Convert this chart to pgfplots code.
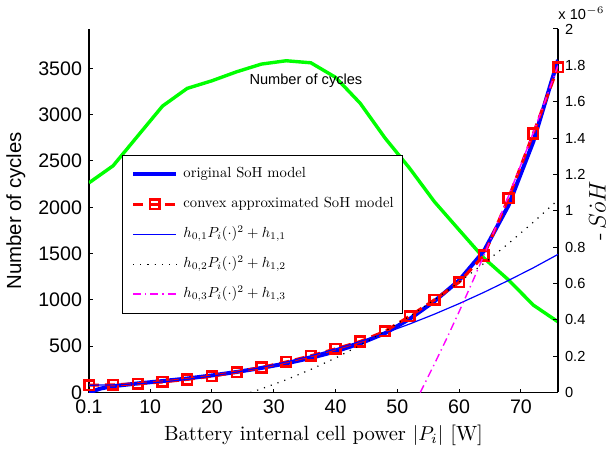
\documentclass[border=0pt]{standalone}
\usepackage{fontspec}
\usepackage{graphicx}
\usepackage{pgfplots}
\pgfplotsset{compat=1.18}
\newfontfamily\arial{Liberation Sans}
\definecolor{mygreen}{RGB}{0,255,0}
\definecolor{mymag}{RGB}{255,0,255}
\definecolor{myblue}{RGB}{0,0,255}
\newcommand\lgd[1]{\scalebox{0.73}{#1}}
\begin{document}
\begin{tikzpicture}
\begin{axis}[
  scale only axis, width=234.5pt, height=181.75pt,
  xmin=0.1, xmax=76, ymin=0, ymax=3925,
  axis y line*=left, axis x line*=bottom,
  axis line style={-, line width=0.6pt},
  xtick={0.1,10,20,30,40,50,60,70},
  xticklabels={0.1,10,20,30,40,50,60,70},
  ytick={0,500,1000,1500,2000,2500,3000,3500},
  yticklabels={0,500,1000,1500,2000,2500,3000,3500},
  tick align=inside, major tick length=2pt,
  tick style={black, line width=0.5pt},
  ticklabel style={font=\arial\fontsize{9.8}{11}\selectfont},
  xlabel={Battery internal cell power $|P_i|$ [W]},
  xlabel style={font=\fontsize{10.3}{12}\selectfont, at={(axis description cs:0.5,-0.1307)}, anchor=base},
  ylabel={Number of cycles},
  ylabel style={font=\arial\fontsize{10.2}{12}\selectfont, at={(axis description cs:-0.156,0.5)}, anchor=center},
]
\addplot[mygreen, line width=1.7pt] coordinates {
(0.1,2264) (4,2448) (8,2771) (12,3093) (16,3284) (20,3366) (24,3463) (28,3546)
(32,3582) (36,3560) (40,3403) (44,3122) (48,2748) (52,2420) (56,2060) (60,1755)
(64,1452) (68,1215) (72,944) (76,763)};
\node[font=\arial\fontsize{7.3}{9}\selectfont, anchor=center] at (axis cs:35.2,3368) {Number of cycles};
\end{axis}
\begin{axis}[
  scale only axis, width=234.5pt, height=181.75pt,
  xmin=0.1, xmax=76, ymin=0, ymax=2,
  axis y line*=right, axis x line=none,
  axis line style={-, line width=0.6pt},
  clip mode=individual,
  ytick={0,0.2,0.4,0.6,0.8,1,1.2,1.4,1.6,1.8,2},
  yticklabels={0,0.2,0.4,0.6,0.8,1,1.2,1.4,1.6,1.8,2},
  tick align=inside, major tick length=2.5pt,
  tick style={black, line width=0.5pt},
  yticklabel style={font=\arial\fontsize{7.3}{9}\selectfont},
  ylabel={-$\,S\dot{o}H$},
  ylabel style={font=\fontsize{11.5}{13}\selectfont, inner sep=0pt, at={(axis description cs:1.084,0.5)}, anchor=center},
  legend style={at={(axis description cs:0.0697,0.6534)}, anchor=north west,
    font=\fontsize{10}{12}\selectfont, fill=white,
    inner xsep=4.5pt, inner ysep=6pt, row sep=8.2pt, column sep=2.5pt,
    nodes={inner sep=0pt, text height=5.2pt, text depth=1.6pt}},
  legend cell align=left,
  legend image code/.code={\draw[mark repeat=2,mark phase=2,#1] plot coordinates {(0pt,0pt) (10.85pt,0pt) (21.7pt,0pt)};},
]
\addplot[myblue, line width=2pt] coordinates {
(0.1,0.0) (2,0.022) (4,0.035) (8,0.050) (12,0.063) (16,0.077) (20,0.094) (24,0.113)
(28,0.135) (32,0.160) (36,0.190) (40,0.226) (44,0.270) (48,0.326) (52,0.405)
(56,0.502) (60,0.617) (64,0.778) (68,1.030) (72,1.380) (76,1.830)};
\addlegendentry{\lgd{original SoH model}}
\addplot[red, line width=1.5pt, dash pattern=on 5pt off 3pt, mark=square, mark size=2.4pt,
  mark options={solid, line width=1.3pt}] coordinates {
(0.1,0.040) (4,0.042) (8,0.048) (12,0.058) (16,0.072) (20,0.090) (24,0.112) (28,0.138)
(32,0.168) (36,0.202) (40,0.240) (44,0.281) (48,0.337) (52,0.420) (56,0.510)
(60,0.607) (64,0.754) (68,1.070) (72,1.425) (76,1.790)};
\addlegendentry{\lgd{convex approximated SoH model}}
\addplot[draw=myblue, color=myblue, line width=0.6pt] coordinates {
(0.1,0.040) (4,0.042) (8,0.048) (12,0.058) (16,0.072) (20,0.090) (24,0.112) (28,0.138)
(32,0.168) (36,0.202) (40,0.240) (44,0.281) (48,0.327) (52,0.377) (56,0.431)
(60,0.489) (64,0.551) (68,0.617) (72,0.686) (76,0.760)};
\addlegendentry{\lgd{$h_{0,1}P_i(\cdot)^2+h_{1,1}$}}
\addplot[draw=black, color=black, line width=0.6pt, dash pattern=on 0.6pt off 3pt] coordinates {
(26.2,0) (28,0.020) (32,0.070) (36,0.127) (40,0.190) (44,0.260) (48,0.337) (52,0.420)
(56,0.510) (60,0.607) (64,0.710) (68,0.820) (72,0.937) (76,1.060)};
\addlegendentry{\lgd{$h_{0,2}P_i(\cdot)^2+h_{1,2}$}}
\addplot[draw=mymag, color=mymag, line width=0.7pt, dash pattern=on 4pt off 2pt on 0.7pt off 2pt] coordinates {
(53.7,0) (54,0.020) (56,0.157) (58,0.298) (60,0.445) (62,0.597) (64,0.754) (66,0.916)
(68,1.082) (70,1.254) (72,1.430) (74,1.612) (76,1.799)};
\addlegendentry{\lgd{$h_{0,3}P_i(\cdot)^2+h_{1,3}$}}
\node[font=\arial\fontsize{7.3}{9}\selectfont, anchor=base west, inner sep=0pt] at ([yshift=4.5pt]rel axis cs:1,1) {x 10$^{-6}$};
\end{axis}
\pgfresetboundingbox
\path[use as bounding box] (-44.5pt,-27.75pt) rectangle (259.5pt,196.25pt);
\end{tikzpicture}
\end{document}
